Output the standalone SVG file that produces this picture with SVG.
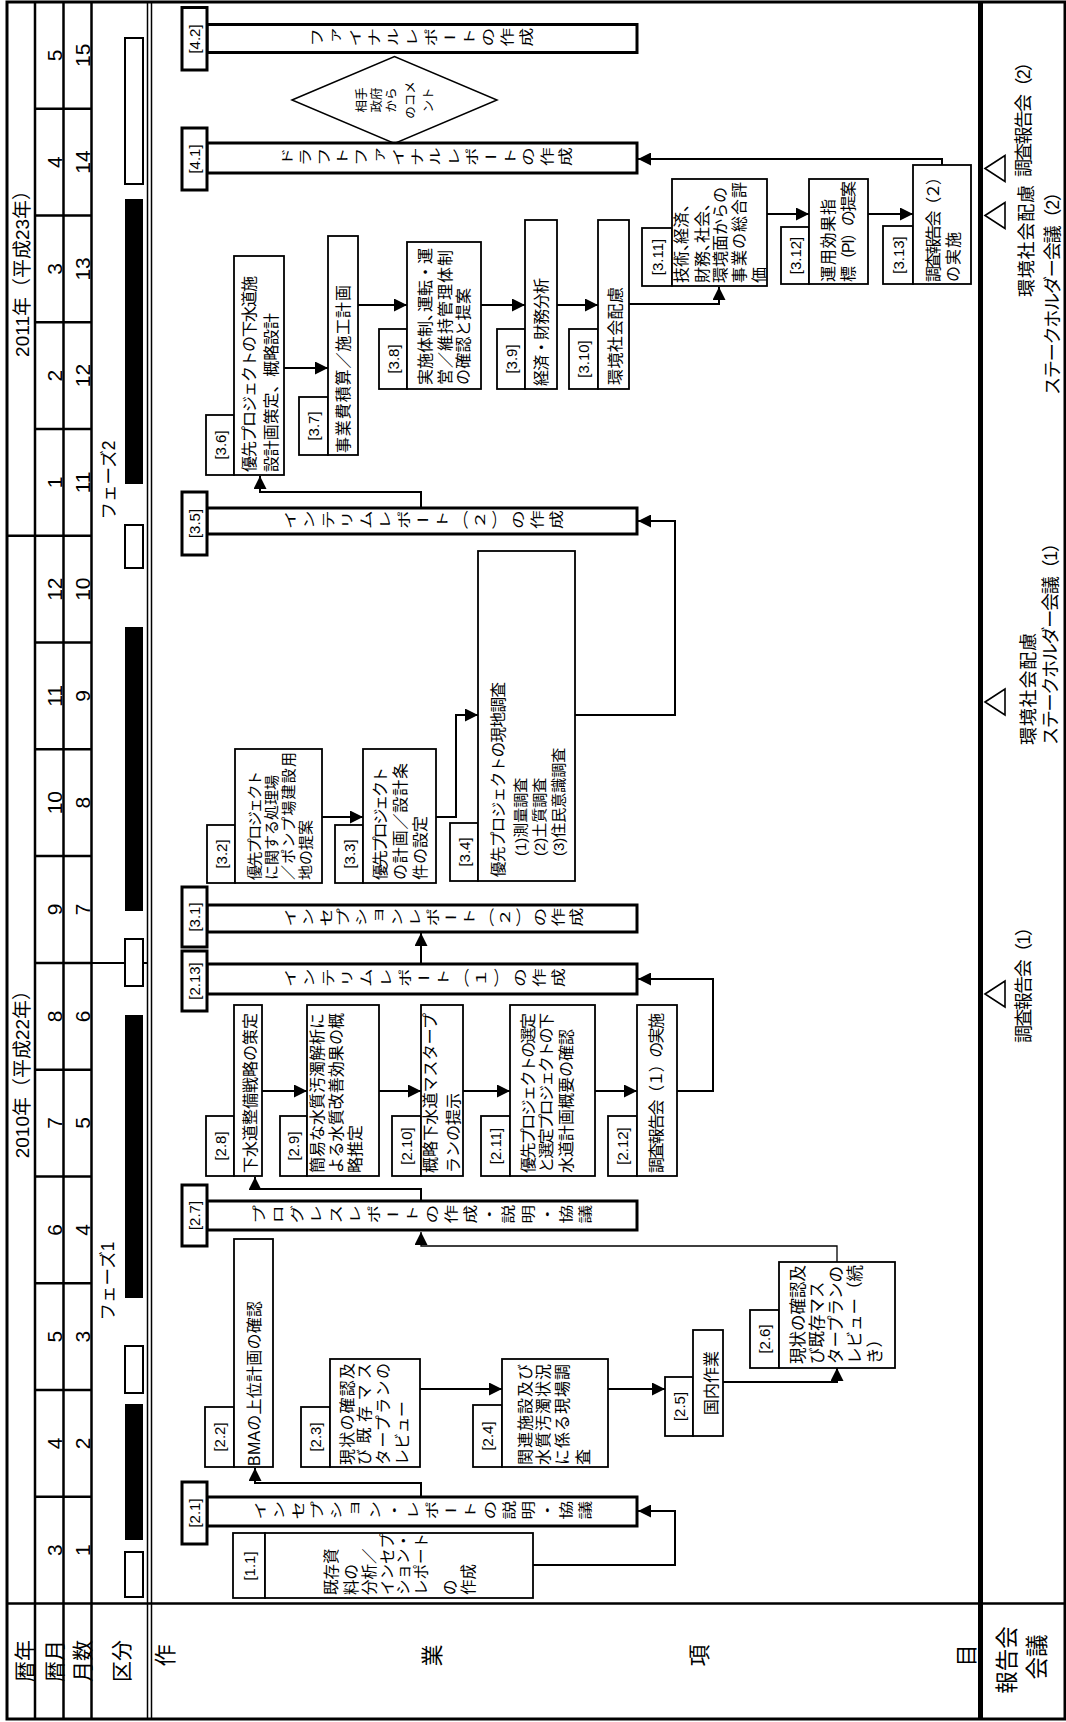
<svg xmlns="http://www.w3.org/2000/svg" width="1066" height="1722" viewBox="0 0 1066 1722">
<defs>
<style>
text{font-family:'Liberation Sans','Noto Sans CJK JP',sans-serif;fill:#000}
.c{dominant-baseline:central}
.m{text-anchor:middle}
.v{writing-mode:vertical-rl}
.bt{writing-mode:vertical-rl;font-size:19px}
.b{fill:#fff;stroke:#000;stroke-width:1.8}
.k{fill:#fff;stroke:#000;stroke-width:3}
.g{fill:none;stroke:#000;stroke-width:2.5}
.l{fill:none;stroke:#000;stroke-width:2;marker-end:url(#ah)}
.lt{fill:none;stroke:#000;stroke-width:1.3;marker-end:url(#ah)}
</style>
<marker id="ah" viewBox="0 0 10 10" refX="10" refY="5" markerWidth="13" markerHeight="13" markerUnits="userSpaceOnUse" orient="auto"><path d="M0,0 L10,5 L0,10 z" fill="#000"/></marker>
</defs>
<rect width="1066" height="1722" fill="#fff"/>
<g id="frame">
<rect x="7" y="2" width="1058" height="1717" fill="none" stroke="#000" stroke-width="3"/>
<line class="g" x1="35" y1="2" x2="35" y2="1719"/>
<line class="g" x1="63.5" y1="2" x2="63.5" y2="1719"/>
<line class="g" x1="91.5" y1="2" x2="91.5" y2="1719"/>
<line x1="147.5" y1="2" x2="147.5" y2="1719" stroke="#000" stroke-width="1.5"/>
<line x1="151.5" y1="2" x2="151.5" y2="1719" stroke="#000" stroke-width="1.5"/>
<line x1="980.5" y1="2" x2="980.5" y2="1719" stroke="#000" stroke-width="5"/>
<line class="g" x1="7" y1="1603.5" x2="1065" y2="1603.5"/>
<path class="g" d="M35 1496.7H91.5M35 1390H91.5M35 1283.2H91.5M35 1176.4H91.5M35 1069.7H91.5M35 962.9H91.5M35 856.1H91.5M35 749.3H91.5M35 642.6H91.5M7 535.8H91.5M35 429H91.5M35 322.2H91.5M35 215.5H91.5M35 108.7H91.5"/>
<line x1="91.5" y1="962.9" x2="147.5" y2="962.9" stroke="#000" stroke-width="2"/>
</g>
<g id="header-text">
<text class="c m" font-size="19" transform="translate(22.5 268.9) rotate(-90)">2011年（平成23年）</text>
<text class="c m" font-size="19" transform="translate(22.5 1069.6) rotate(-90)">2010年（平成22年）</text>
<text class="c m" font-size="21" transform="translate(54.5 1550.1) rotate(-90)">3</text>
<text class="c m" font-size="21" transform="translate(54.5 1443.3) rotate(-90)">4</text>
<text class="c m" font-size="21" transform="translate(54.5 1336.6) rotate(-90)">5</text>
<text class="c m" font-size="21" transform="translate(54.5 1229.8) rotate(-90)">6</text>
<text class="c m" font-size="21" transform="translate(54.5 1123) rotate(-90)">7</text>
<text class="c m" font-size="21" transform="translate(54.5 1016.3) rotate(-90)">8</text>
<text class="c m" font-size="21" transform="translate(54.5 909.5) rotate(-90)">9</text>
<text class="c m" font-size="21" transform="translate(54.5 802.7) rotate(-90)">10</text>
<text class="c m" font-size="21" transform="translate(54.5 695.9) rotate(-90)">11</text>
<text class="c m" font-size="21" transform="translate(54.5 589.2) rotate(-90)">12</text>
<text class="c m" font-size="21" transform="translate(54.5 482.4) rotate(-90)">1</text>
<text class="c m" font-size="21" transform="translate(54.5 375.6) rotate(-90)">2</text>
<text class="c m" font-size="21" transform="translate(54.5 268.9) rotate(-90)">3</text>
<text class="c m" font-size="21" transform="translate(54.5 162.1) rotate(-90)">4</text>
<text class="c m" font-size="21" transform="translate(54.5 55.3) rotate(-90)">5</text>
<text class="c m" font-size="21" transform="translate(82.5 1550.1) rotate(-90)">1</text>
<text class="c m" font-size="21" transform="translate(82.5 1443.3) rotate(-90)">2</text>
<text class="c m" font-size="21" transform="translate(82.5 1336.6) rotate(-90)">3</text>
<text class="c m" font-size="21" transform="translate(82.5 1229.8) rotate(-90)">4</text>
<text class="c m" font-size="21" transform="translate(82.5 1123) rotate(-90)">5</text>
<text class="c m" font-size="21" transform="translate(82.5 1016.3) rotate(-90)">6</text>
<text class="c m" font-size="21" transform="translate(82.5 909.5) rotate(-90)">7</text>
<text class="c m" font-size="21" transform="translate(82.5 802.7) rotate(-90)">8</text>
<text class="c m" font-size="21" transform="translate(82.5 695.9) rotate(-90)">9</text>
<text class="c m" font-size="21" transform="translate(82.5 589.2) rotate(-90)">10</text>
<text class="c m" font-size="21" transform="translate(82.5 482.4) rotate(-90)">11</text>
<text class="c m" font-size="21" transform="translate(82.5 375.6) rotate(-90)">12</text>
<text class="c m" font-size="21" transform="translate(82.5 268.9) rotate(-90)">13</text>
<text class="c m" font-size="21" transform="translate(82.5 162.1) rotate(-90)">14</text>
<text class="c m" font-size="21" transform="translate(82.5 55.3) rotate(-90)">15</text>
<text class="c m" font-size="21" transform="translate(24 1661) rotate(-90)">暦年</text>
<text class="c m" font-size="21" transform="translate(54.5 1661) rotate(-90)">暦月</text>
<text class="c m" font-size="21" transform="translate(82.5 1661) rotate(-90)">月数</text>
<text class="c m" font-size="21" transform="translate(121 1661) rotate(-90)">区分</text>
<text class="v" font-size="22" y="0 267 534 801" transform="translate(154 1658) rotate(-90)">作業項目</text>
<text class="c m" font-size="22.5" transform="translate(1007.5 1660) rotate(-90)">報告会</text>
<text class="c m" font-size="22.5" transform="translate(1037.5 1657) rotate(-90)">会議</text>
</g>
<g id="phases">
<rect x="125" y="1552" width="18" height="45" fill="#fff" stroke="#000" stroke-width="2"/>
<rect x="125" y="1404" width="18" height="136" fill="#000"/>
<rect x="125" y="1346" width="18" height="47" fill="#fff" stroke="#000" stroke-width="2"/>
<rect x="125" y="1015" width="18" height="283" fill="#000"/>
<rect x="125" y="939" width="18" height="47" fill="#fff" stroke="#000" stroke-width="2"/>
<rect x="125" y="627" width="18" height="284" fill="#000"/>
<rect x="125" y="525" width="18" height="43" fill="#fff" stroke="#000" stroke-width="2"/>
<rect x="125" y="199" width="18" height="285" fill="#000"/>
<rect x="125" y="38" width="18" height="146" fill="#fff" stroke="#000" stroke-width="2"/>
<text class="c m" font-size="17.5" transform="translate(107.5 1281) rotate(-90)">フェーズ1</text>
<text class="c m" font-size="17.5" transform="translate(108.5 480) rotate(-90)">フェーズ2</text>
</g>
<g id="meetings">
<polygon points="985,994 1005,981 1005,1007" fill="none" stroke="#000" stroke-width="1.6"/>
<polygon points="985,702 1005,689 1005,715" fill="none" stroke="#000" stroke-width="1.6"/>
<polygon points="985,215.5 1005,202.5 1005,228.5" fill="none" stroke="#000" stroke-width="1.6"/>
<polygon points="985,168.5 1005,155.5 1005,181.5" fill="none" stroke="#000" stroke-width="1.6"/>
<text class="c" font-size="18" textLength="125" transform="translate(1024 1043) rotate(-90)">調査報告会（1）</text>
<text class="c" font-size="18" textLength="112" transform="translate(1028.5 745) rotate(-90)">環境社会配慮</text>
<text class="c" font-size="18" textLength="211" transform="translate(1050.5 745) rotate(-90)">ステークホルダー会議（1）</text>
<text class="c" font-size="18" textLength="112" transform="translate(1026.5 297) rotate(-90)">環境社会配慮</text>
<text class="c" font-size="18" textLength="212" transform="translate(1053 395) rotate(-90)">ステークホルダー会議（2）</text>
<text class="c" font-size="18" textLength="124" transform="translate(1024 177) rotate(-90)">調査報告会（2）</text>
</g>
<g id="connectors">
<path class="l" d="M533 1565H675V1511H638"/>
<path class="l" d="M421 1497V1483H255V1468"/>
<path class="l" d="M420 1389H502"/>
<path class="l" d="M608 1389H665"/>
<path class="l" d="M723 1382H837V1368"/>
<path class="lt" d="M837 1262V1246H421V1232"/>
<path class="l" d="M421 1201V1189H255V1177"/>
<path class="l" d="M262 1091H307"/>
<path class="l" d="M379 1091H421"/>
<path class="l" d="M463 1091H510"/>
<path class="l" d="M595 1091H637"/>
<path class="l" d="M677 1091H713V979H638"/>
<path class="l" d="M421 964V933"/>
<path class="l" d="M322 817H363"/>
<path class="l" d="M436 817H456V715H478"/>
<path class="l" d="M575 715H675V521H638"/>
<path class="l" d="M421 508V492H260V476"/>
<path class="l" d="M284 368H328"/>
<path class="l" d="M358 305H407"/>
<path class="l" d="M481 305H525"/>
<path class="l" d="M557 305H598"/>
<path class="l" d="M629 304H719V287"/>
<path class="l" d="M767 214H809"/>
<path class="l" d="M868 214H913"/>
<path class="l" d="M942 165V159H638"/>
</g>
<g id="n4_2">
<rect class="k" x="207" y="24.5" width="430" height="28"/>
<rect class="k" x="182" y="7.5" width="25" height="62.5"/>
<text class="c m" font-size="15" transform="translate(194.5 39) rotate(-90)">[4.2]</text>
<text class="bt" letter-spacing="8.23" transform="translate(310 38.5) scale(0.7 1) rotate(-90)">ファイナルレポートの作成</text>
</g>
<g id="n_comment">
<polygon points="292,100 394.5,56.5 497,100 394.5,143.5" fill="#fff" stroke="#000" stroke-width="1.5"/>
<text class="c m" font-size="12.5" transform="translate(362 100) rotate(-90)">相手</text>
<text class="c m" font-size="12.5" transform="translate(377 100) rotate(-90)">政府</text>
<text class="c m" font-size="12.5" transform="translate(392 100) rotate(-90)">から</text>
<text class="c m" font-size="12.5" transform="translate(411 100) rotate(-90)">のコメ</text>
<text class="c m" font-size="12.5" transform="translate(429 100) rotate(-90)">ント</text>
</g>
<g id="n4_1">
<rect class="k" x="207" y="143" width="430" height="30"/>
<rect class="k" x="182" y="128" width="25" height="62"/>
<text class="c m" font-size="15" transform="translate(194.5 159) rotate(-90)">[4.1]</text>
<text class="bt" letter-spacing="7.54" transform="translate(280 158) scale(0.7 1) rotate(-90)">ドラフトファイナルレポートの作成</text>
</g>
<g id="n3_5">
<rect class="k" x="207" y="508" width="430" height="26"/>
<rect class="k" x="182" y="492" width="25" height="63"/>
<text class="c m" font-size="15" transform="translate(194.5 523.5) rotate(-90)">[3.5]</text>
<text class="bt" letter-spacing="8.21" transform="translate(283 521) scale(0.7 1) rotate(-90)">インテリムレポート（２）の作成</text>
</g>
<g id="n3_1">
<rect class="k" x="207" y="905" width="430" height="27"/>
<rect class="k" x="182" y="887" width="25" height="60"/>
<text class="c m" font-size="15" transform="translate(194.5 917) rotate(-90)">[3.1]</text>
<text class="bt" letter-spacing="6.6" transform="translate(283 918.5) scale(0.7 1) rotate(-90)">インセプションレポート（２）の作成</text>
</g>
<g id="n2_13">
<rect class="k" x="207" y="964" width="430" height="30"/>
<rect class="k" x="182" y="951" width="25" height="60"/>
<text class="c m" font-size="15" transform="translate(194.5 981) rotate(-90)">[2.13]</text>
<text class="bt" letter-spacing="8.42" transform="translate(283 979) scale(0.7 1) rotate(-90)">インテリムレポート（１）の作成</text>
</g>
<g id="n2_7">
<rect class="k" x="207" y="1201" width="430" height="29"/>
<rect class="k" x="182" y="1185" width="25" height="61"/>
<text class="c m" font-size="15" transform="translate(194.5 1215.5) rotate(-90)">[2.7]</text>
<text class="bt" letter-spacing="8.45" transform="translate(252 1215.5) scale(0.7 1) rotate(-90)">プログレスレポートの作成・説明・協議</text>
</g>
<g id="n2_1">
<rect class="k" x="207" y="1497" width="430" height="29"/>
<rect class="k" x="182" y="1482" width="25" height="62"/>
<text class="c m" font-size="15" transform="translate(194.5 1513) rotate(-90)">[2.1]</text>
<text class="bt" letter-spacing="8.37" transform="translate(253 1511.5) scale(0.7 1) rotate(-90)">インセプション・レポートの説明・協議</text>
</g>
<g id="n1_1">
<rect class="b" x="233" y="1533" width="32" height="65"/>
<rect class="b" x="265" y="1533" width="268" height="65"/>
<text class="c m" font-size="15" transform="translate(249.5 1566) rotate(-90)">[1.1]</text>
<text class="c" font-size="15.5" transform="translate(331 1595) rotate(-90)">既存資</text>
<text class="c" font-size="15.5" transform="translate(351 1595) rotate(-90)">料の</text>
<text class="c" font-size="15.5" transform="translate(369 1595) rotate(-90)">分析／</text>
<text class="c" font-size="15.5" transform="translate(387 1595) rotate(-90)">インセプ</text>
<text class="c" font-size="15.5" transform="translate(403 1595) rotate(-90)">ション・</text>
<text class="c" font-size="15.5" transform="translate(421 1595) rotate(-90)">レポート</text>
<text class="c" font-size="15.5" transform="translate(450 1595) rotate(-90)">の</text>
<text class="c" font-size="15.5" transform="translate(468 1595) rotate(-90)">作成</text>
</g>
<g id="n2_2">
<rect class="b" x="205" y="1407" width="29" height="60"/>
<rect class="b" x="234" y="1239" width="39" height="228"/>
<text class="c m" font-size="15" transform="translate(219.5 1437) rotate(-90)">[2.2]</text>
<text class="c" font-size="16" textLength="165" transform="translate(254.5 1466) rotate(-90)">BMAの上位計画の確認</text>
</g>
<g id="n2_3">
<rect class="b" x="301" y="1407" width="29" height="60"/>
<rect class="b" x="330" y="1359" width="90" height="108"/>
<text class="c m" font-size="15" transform="translate(315.5 1437) rotate(-90)">[2.3]</text>
<text class="c" font-size="16" textLength="102" transform="translate(347 1465) rotate(-90)">現状の確認及</text>
<text class="c" font-size="16" textLength="102" transform="translate(364 1465) rotate(-90)">び既存マス</text>
<text class="c" font-size="16" textLength="102" transform="translate(383 1465) rotate(-90)">タープランの</text>
<text class="c" font-size="16" transform="translate(402 1465) rotate(-90)">レビュー</text>
</g>
<g id="n2_4">
<rect class="b" x="473" y="1405" width="29" height="62"/>
<rect class="b" x="502" y="1359" width="106" height="108"/>
<text class="c m" font-size="15" transform="translate(487.5 1436) rotate(-90)">[2.4]</text>
<text class="c" font-size="16" textLength="101" transform="translate(525 1465) rotate(-90)">関連施設及び</text>
<text class="c" font-size="16" textLength="101" transform="translate(543 1465) rotate(-90)">水質汚濁状況</text>
<text class="c" font-size="16" textLength="101" transform="translate(562.5 1465) rotate(-90)">に係る現場調</text>
<text class="c" font-size="16" transform="translate(583 1465) rotate(-90)">査</text>
</g>
<g id="n2_5">
<rect class="b" x="665" y="1377" width="28" height="59"/>
<rect class="b" x="693" y="1330" width="30" height="106"/>
<text class="c m" font-size="15" transform="translate(679 1406.5) rotate(-90)">[2.5]</text>
<text class="c m" font-size="16" transform="translate(711 1383) rotate(-90)">国内作業</text>
</g>
<g id="n2_6">
<rect class="b" x="750" y="1310" width="29" height="58"/>
<rect class="b" x="779" y="1262" width="116" height="106"/>
<text class="c m" font-size="15" transform="translate(764.5 1339) rotate(-90)">[2.6]</text>
<text class="c" font-size="16.5" transform="translate(798 1364) rotate(-90)">現状の確認及</text>
<text class="c" font-size="16.5" transform="translate(817 1364) rotate(-90)">び既存マス</text>
<text class="c" font-size="16.5" transform="translate(836 1364) rotate(-90)">タープランの</text>
<text class="c" font-size="16.5" transform="translate(855 1364) rotate(-90)">レビュー（続</text>
<text class="c" font-size="16.5" transform="translate(875 1364) rotate(-90)">き）</text>
</g>
<g id="n2_8">
<rect class="b" x="206" y="1116" width="28" height="60"/>
<rect class="b" x="234" y="1005" width="28" height="171"/>
<text class="c m" font-size="15" transform="translate(220 1146) rotate(-90)">[2.8]</text>
<text class="c" font-size="16" textLength="160" transform="translate(250 1173) rotate(-90)">下水道整備戦略の策定</text>
</g>
<g id="n2_9">
<rect class="b" x="280" y="1116" width="27" height="60"/>
<rect class="b" x="307" y="1005" width="72" height="171"/>
<text class="c m" font-size="15" transform="translate(293.5 1146) rotate(-90)">[2.9]</text>
<text class="c" font-size="16" textLength="160" transform="translate(317 1173) rotate(-90)">簡易な水質汚濁解析に</text>
<text class="c" font-size="16" textLength="160" transform="translate(336 1173) rotate(-90)">よる水質改善効果の概</text>
<text class="c" font-size="16" transform="translate(355 1173) rotate(-90)">略推定</text>
</g>
<g id="n2_10">
<rect class="b" x="392" y="1116" width="29" height="60"/>
<rect class="b" x="421" y="1005" width="42" height="171"/>
<text class="c m" font-size="15" transform="translate(406.5 1146) rotate(-90)">[2.10]</text>
<text class="c" font-size="16" textLength="160" transform="translate(430.5 1173) rotate(-90)">概略下水道マスタープ</text>
<text class="c" font-size="16" transform="translate(453.5 1173) rotate(-90)">ランの提示</text>
</g>
<g id="n2_11">
<rect class="b" x="481" y="1116" width="29" height="60"/>
<rect class="b" x="510" y="1005" width="85" height="171"/>
<text class="c m" font-size="15" transform="translate(495.5 1146) rotate(-90)">[2.11]</text>
<text class="c" font-size="16" textLength="160" transform="translate(528 1173) rotate(-90)">優先プロジェクトの選定</text>
<text class="c" font-size="16" textLength="160" transform="translate(546 1173) rotate(-90)">と選定プロジェクトの下</text>
<text class="c" font-size="16" transform="translate(566 1173) rotate(-90)">水道計画概要の確認</text>
</g>
<g id="n2_12">
<rect class="b" x="608" y="1116" width="29" height="60"/>
<rect class="b" x="637" y="1005" width="40" height="171"/>
<text class="c m" font-size="15" transform="translate(622.5 1146) rotate(-90)">[2.12]</text>
<text class="c" font-size="16" textLength="160" transform="translate(656 1173) rotate(-90)">調査報告会（１）の実施</text>
</g>
<g id="n3_2">
<rect class="b" x="207" y="825" width="28" height="58"/>
<rect class="b" x="235" y="749" width="87" height="134"/>
<text class="c m" font-size="15" transform="translate(221 854) rotate(-90)">[3.2]</text>
<text class="c" font-size="15" textLength="109" transform="translate(254 880) rotate(-90)">優先プロジェクト</text>
<text class="c" font-size="15" textLength="105" transform="translate(271 880) rotate(-90)">に関する処理場</text>
<text class="c" font-size="15" textLength="128" transform="translate(288 880) rotate(-90)">／ポンプ場建設用</text>
<text class="c" font-size="15" transform="translate(305 880) rotate(-90)">地の提案</text>
</g>
<g id="n3_3">
<rect class="b" x="335" y="825" width="28" height="58"/>
<rect class="b" x="363" y="749" width="73" height="134"/>
<text class="c m" font-size="15" transform="translate(349 854) rotate(-90)">[3.3]</text>
<text class="c" font-size="16" textLength="113" transform="translate(380 880) rotate(-90)">優先プロジェクト</text>
<text class="c" font-size="16" textLength="117" transform="translate(400 880) rotate(-90)">の計画／設計条</text>
<text class="c" font-size="16" transform="translate(420 880) rotate(-90)">件の設定</text>
</g>
<g id="n3_4">
<rect class="b" x="450" y="823" width="28" height="58"/>
<rect class="b" x="478" y="551" width="97" height="330"/>
<text class="c m" font-size="15" transform="translate(464 852) rotate(-90)">[3.4]</text>
<text class="c" font-size="15.5" textLength="195" transform="translate(498.5 877) rotate(-90)">優先プロジェクトの現地調査</text>
<text class="c" font-size="15" transform="translate(520 856) rotate(-90)">(1)測量調査</text>
<text class="c" font-size="15" transform="translate(539.5 856) rotate(-90)">(2)土質調査</text>
<text class="c" font-size="15" transform="translate(558.5 856) rotate(-90)">(3)住民意識調査</text>
</g>
<g id="n3_6">
<rect class="b" x="206" y="415" width="28" height="60"/>
<rect class="b" x="234" y="256" width="50" height="219"/>
<text class="c m" font-size="15" transform="translate(220 445) rotate(-90)">[3.6]</text>
<text class="c" font-size="16" textLength="196" transform="translate(249.5 472) rotate(-90)">優先プロジェクトの下水道施</text>
<text class="c" font-size="16" textLength="159" transform="translate(271.5 472) rotate(-90)">設計画策定、概略設計</text>
</g>
<g id="n3_7">
<rect class="b" x="299" y="397" width="29" height="58"/>
<rect class="b" x="328" y="236" width="30" height="219"/>
<text class="c m" font-size="15" transform="translate(313.5 426) rotate(-90)">[3.7]</text>
<text class="c" font-size="16" textLength="168" transform="translate(343.5 453) rotate(-90)">事業費積算／施工計画</text>
</g>
<g id="n3_8">
<rect class="b" x="379" y="329" width="28" height="60"/>
<rect class="b" x="407" y="242" width="74" height="147"/>
<text class="c m" font-size="15" transform="translate(393 359) rotate(-90)">[3.8]</text>
<text class="c" font-size="16" transform="translate(425 385) rotate(-90)">実施体制、<tspan dx="-7">運転・運</tspan></text>
<text class="c" font-size="16" textLength="135" transform="translate(445 385) rotate(-90)">営／維持管理体制</text>
<text class="c" font-size="16" textLength="97" transform="translate(463.5 385) rotate(-90)">の確認と提案</text>
</g>
<g id="n3_9">
<rect class="b" x="497" y="329" width="28" height="60"/>
<rect class="b" x="525" y="220" width="32" height="169"/>
<text class="c m" font-size="15" transform="translate(511 359) rotate(-90)">[3.9]</text>
<text class="c" font-size="16" textLength="108" transform="translate(541.5 386) rotate(-90)">経済・財務分析</text>
</g>
<g id="n3_10">
<rect class="b" x="569" y="329" width="29" height="60"/>
<rect class="b" x="598" y="220" width="31" height="169"/>
<text class="c m" font-size="15" transform="translate(583.5 359) rotate(-90)">[3.10]</text>
<text class="c" font-size="16" textLength="98" transform="translate(615.5 385) rotate(-90)">環境社会配慮</text>
</g>
<g id="n3_11">
<rect class="b" x="642" y="228" width="30" height="58"/>
<rect class="b" x="672" y="179" width="95" height="107"/>
<text class="c m" font-size="15" transform="translate(657 257) rotate(-90)">[3.11]</text>
<text class="c" font-size="16" transform="translate(681 283) rotate(-90)">技術、<tspan dx="-9">経済、</tspan></text>
<text class="c" font-size="16" transform="translate(702 283) rotate(-90)">財務、<tspan dx="-8">社会、</tspan></text>
<text class="c" font-size="16" textLength="96" transform="translate(720.5 283) rotate(-90)">環境面からの</text>
<text class="c" font-size="16" textLength="101" transform="translate(739.5 283) rotate(-90)">事業の総合評</text>
<text class="c" font-size="16" transform="translate(759 283) rotate(-90)">価</text>
</g>
<g id="n3_12">
<rect class="b" x="781" y="227" width="28" height="57"/>
<rect class="b" x="809" y="179" width="59" height="105"/>
<text class="c m" font-size="15" transform="translate(795 255.5) rotate(-90)">[3.12]</text>
<text class="c" font-size="16" textLength="83" transform="translate(828.5 282) rotate(-90)">運用効果指</text>
<text class="c" font-size="16" textLength="101" transform="translate(848.5 282) rotate(-90)">標（PI）の提案</text>
</g>
<g id="n3_13">
<rect class="b" x="883" y="226" width="30" height="58"/>
<rect class="b" x="913" y="165" width="58" height="119"/>
<text class="c m" font-size="15" transform="translate(898 255) rotate(-90)">[3.13]</text>
<text class="c" font-size="16" textLength="113" transform="translate(933.5 282) rotate(-90)">調査報告会（２）</text>
<text class="c" font-size="16" textLength="50" transform="translate(953.5 282) rotate(-90)">の実施</text>
</g>
</svg>
